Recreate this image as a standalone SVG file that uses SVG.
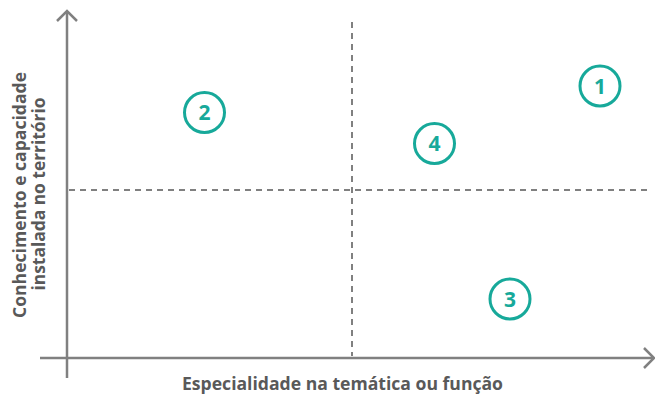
<svg xmlns="http://www.w3.org/2000/svg" width="655" height="396" viewBox="0 0 655 396">
<style>
.axis{stroke:#808080;stroke-width:2.5;fill:none}
.dash{stroke:#808080;stroke-width:2;stroke-dasharray:6 5;fill:none}
.lbl{font-family:"Open Sans","Noto Sans",sans-serif;font-weight:bold;font-size:17.5px;fill:#595959}
.ring{fill:#fff;stroke:#17a99a;stroke-width:3}
.num{font-family:"Open Sans","Noto Sans",sans-serif;font-weight:bold;font-size:21px;fill:#17a99a;text-anchor:middle}
</style>
<rect width="655" height="396" fill="#fff"/>
<g id="connectors">
<line class="dash" x1="69" y1="190" x2="652" y2="190"/>
<line class="dash" x1="352" y1="22" x2="352" y2="356"/>
<line class="axis" x1="67" y1="12" x2="67" y2="378"/>
<polyline class="axis" points="57,21 67,11 77,21"/>
<line class="axis" x1="40" y1="358" x2="653" y2="358"/>
<polyline class="axis" points="644,348 654,358 644,368"/>
</g>
<g id="ylabel">
<text class="lbl" transform="translate(26,195) rotate(-90)" text-anchor="middle" textLength="246" lengthAdjust="spacingAndGlyphs">Conhecimento e capacidade</text>
<text class="lbl" transform="translate(44.5,194) rotate(-90)" text-anchor="middle" textLength="193" lengthAdjust="spacingAndGlyphs">instalada no território</text>
</g>
<g id="xlabel">
<text class="lbl" x="342.5" y="390" text-anchor="middle" textLength="321" lengthAdjust="spacingAndGlyphs">Especialidade na temática ou função</text>
</g>
<g id="node1"><circle class="ring" cx="600" cy="86" r="20"/><text class="num" x="600" y="93.5">1</text></g>
<g id="node2"><circle class="ring" cx="204.5" cy="112.5" r="20"/><text class="num" x="204.5" y="120">2</text></g>
<g id="node3"><circle class="ring" cx="510" cy="299" r="20"/><text class="num" x="510" y="306.5">3</text></g>
<g id="node4"><circle class="ring" cx="434.5" cy="143.5" r="20"/><text class="num" x="434.5" y="151">4</text></g>
</svg>
